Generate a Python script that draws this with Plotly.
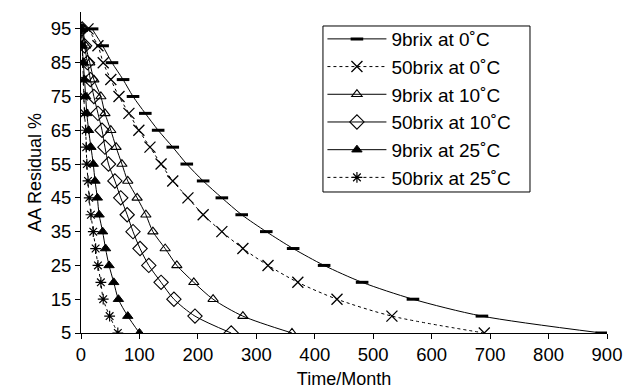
import plotly.graph_objects as go

residual = [95, 90, 85, 80, 75, 70, 65, 60, 55, 50, 45, 40, 35, 30, 25, 20, 15, 10, 5]
y_ticks = [95, 85, 75, 65, 55, 45, 35, 25, 15, 5]
x_ticks = [0, 100, 200, 300, 400, 500, 600, 700, 800, 900]

t_9brix_0C = [19, 37, 53, 72, 89, 110, 132, 157, 181, 209, 241, 275, 317, 363, 416, 481, 568, 686, 891]
t_50brix_0C = [12, 29, 38, 51, 65, 82, 99, 118, 137, 157, 183, 209, 241, 277, 320, 371, 438, 532, 690]
t_9brix_10C = [3, 8, 15, 22, 34, 41, 51, 60, 70, 80, 96, 111, 123, 144, 164, 193, 226, 277, 361]
t_50brix_10C = [2, 6, 11, 16, 22, 29, 36, 41, 47, 58, 68, 79, 89, 101, 116, 137, 159, 195, 257]
t_9brix_25C = [1, 2, 4, 6, 8, 10, 13, 17, 21, 24, 28, 31, 37, 42, 48, 56, 64, 80, 100]
t_50brix_25C = [1, 2, 3, 4, 5, 6, 8, 9, 10, 12, 14, 17, 21, 25, 29, 34, 38, 49, 63]

names = ["9brix at 0˚C", "50brix at 0˚C", "9brix at 10˚C", "50brix at 10˚C",
         "9brix at 25˚C", "50brix at 25˚C"]

series = [t_9brix_0C, t_50brix_0C, t_9brix_10C, t_50brix_10C, t_9brix_25C, t_50brix_25C]
styles = [
    dict(dash="solid", symbol="line-ew-open", size=9, mlw=3),
    dict(dash="dot", symbol="x-thin-open", size=11, mlw=1.3),
    dict(dash="solid", symbol="triangle-up-open", size=9, mlw=1.1),
    dict(dash="solid", symbol="diamond-open", size=11, mlw=1.1),
    dict(dash="solid", symbol="triangle-up", size=9, mlw=1),
    dict(dash="dot", symbol="asterisk-open", size=9, mlw=1.2),
]

fig = go.Figure()
for i, (name, xs, st) in enumerate(zip(names, series, styles)):
    fig.add_trace(go.Scatter(
        x=xs, y=residual, name=name, mode="lines+markers",
        legendgroup=f"g{i}",
        line=dict(color="black", width=1, dash=st["dash"], shape="spline", smoothing=0.8),
        marker=dict(symbol=st["symbol"], size=st["size"], color="black",
                    line=dict(color="black", width=st["mlw"])),
    ))

font = "Liberation Sans, Arial, sans-serif"
# page body has an 8px margin, so the figure is sized to fit the 633x392 window
fig.update_layout(
    width=625, height=384,
    margin=dict(l=73, r=26, t=4, b=59),
    paper_bgcolor="white", plot_bgcolor="white",
    font=dict(family=font, size=18, color="black"),
    showlegend=True,
    legend=dict(
        x=0.459, y=0.975, xanchor="left", yanchor="top",
        borderwidth=0, bgcolor="rgba(0,0,0,0)",
        font=dict(family=font, size=19, color="black"),
        traceorder="grouped", tracegroupgap=0, itemwidth=59,
    ),
    shapes=[dict(
        type="rect", xref="paper", yref="paper",
        x0=0.460, x1=0.8536, y0=0.4393, y1=0.9564,
        line=dict(color="black", width=1), fillcolor="white", layer="above",
    )],
    xaxis=dict(
        range=[0, 900], tickvals=x_ticks, automargin=False,
        showline=True, linecolor="black", linewidth=1,
        ticks="outside", ticklen=5, tickcolor="black",
        showgrid=False, zeroline=False,
        title=dict(text="Time/Month", font=dict(size=18), standoff=8),
        tickfont=dict(size=18.5),
    ),
    yaxis=dict(
        range=[5, 100], tickvals=y_ticks, automargin=False,
        showline=True, linecolor="black", linewidth=1,
        ticks="outside", ticklen=5, tickcolor="black",
        showgrid=False, zeroline=False,
        title=dict(text="AA Residual %", font=dict(size=18), standoff=4),
        tickfont=dict(size=18.5),
    ),
)

fig.write_html("out.html")
